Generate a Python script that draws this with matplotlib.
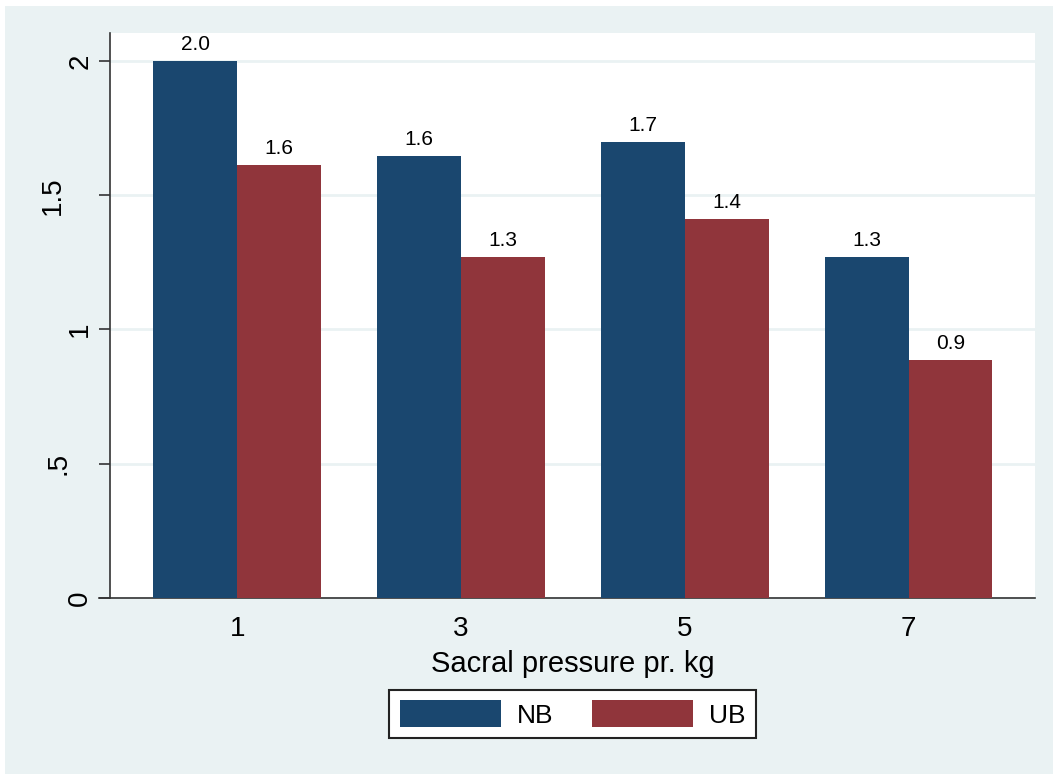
import matplotlib.pyplot as plt
import matplotlib.transforms as mtransforms
import numpy as np
from matplotlib.patches import Rectangle

plt.rcParams["font.family"] = ["Liberation Sans", "DejaVu Sans"]

# values
categories = ["1", "3", "5", "7"]
nb_values = [2.00, 1.646, 1.698, 1.270]
ub_values = [1.613, 1.270, 1.412, 0.886]
series_names = ["NB", "UB"]
y_ticks = [0, 0.5, 1, 1.5, 2]
y_tick_labels = ["0", ".5", "1", "1.5", "2"]

NB_COLOR = "#1a476f"
UB_COLOR = "#90353b"
BG_COLOR = "#eaf2f3"

W, H = 1053, 774
fig = plt.figure(figsize=(W / 100, H / 100), dpi=100, facecolor="white")
# graph region (light band), with a thin white strip top and left
fig.patches.append(Rectangle((5 / W, 0), 1 - 5 / W, 1 - 6 / H,
                             transform=fig.transFigure, facecolor=BG_COLOR,
                             edgecolor="none", zorder=-10))

ax = fig.add_axes([110 / W, 1 - 598 / H, (1035 - 110) / W, (598 - 33) / H])
ax.set_facecolor("white")

x = np.arange(len(categories))
bw = 0.374
bars_nb = ax.bar(x - bw / 2, nb_values, bw, color=NB_COLOR, label=series_names[0], zorder=3)
bars_ub = ax.bar(x + bw / 2, ub_values, bw, color=UB_COLOR, label=series_names[1], zorder=3)

for bars, vals in ((bars_nb, nb_values), (bars_ub, ub_values)):
    for b, v in zip(bars, vals):
        ax.annotate(f"{v:.1f}", (b.get_x() + b.get_width() / 2, v),
                    xytext=(0, 5), textcoords="offset points",
                    ha="center", va="bottom", fontsize=15, color="black")

ax.set_xlim(-0.568, 3.564)
ax.set_ylim(0, 2.104)
ax.set_xticks(x)
ax.set_xticklabels(categories, fontsize=20)
ax.tick_params(axis="x", length=0, pad=13)
ax.set_yticks(y_ticks)
ax.set_yticklabels(y_tick_labels, fontsize=20, rotation=90, va="center")
ax.tick_params(axis="y", length=8, width=1.2, color="#333333", pad=4)
# Stata pushes the longer vertical labels further out
for lab in ax.get_yticklabels():
    n = len(lab.get_text())
    shift = {1: 0, 2: 22, 3: 27}.get(n, 27)
    lab.set_transform(lab.get_transform()
                      + mtransforms.ScaledTranslation(-shift / 100, 0, fig.dpi_scale_trans))
ax.grid(axis="y", color=BG_COLOR, linewidth=2, zorder=0)
ax.set_axisbelow(True)

for side in ("top", "right"):
    ax.spines[side].set_visible(False)
for side in ("left", "bottom"):
    ax.spines[side].set_color("#333333")
    ax.spines[side].set_linewidth(1.2)
# let the bottom axis line run out under the 0 tick
ax.spines["bottom"].set_bounds(-0.568 - 11 / 223.5, 3.564)
ax.spines["bottom"].set_clip_on(False)

ax.set_xlabel("Sacral pressure pr. kg", fontsize=21, labelpad=6)

leg = fig.legend(handles=[bars_nb, bars_ub], labels=series_names,
                 loc="center", bbox_to_anchor=(572.5 / W, 1 - 714 / H),
                 ncol=2, fontsize=19, frameon=True, fancybox=False,
                 handlelength=3.83, handleheight=1.2, handletextpad=0.6,
                 columnspacing=1.45, borderpad=0.4, borderaxespad=0)
leg.get_frame().set_edgecolor("#222222")
leg.get_frame().set_linewidth(1.5)
leg.get_frame().set_facecolor("white")
leg.get_frame().set_alpha(1)

fig.savefig("out.png", dpi=100, facecolor=fig.get_facecolor())
